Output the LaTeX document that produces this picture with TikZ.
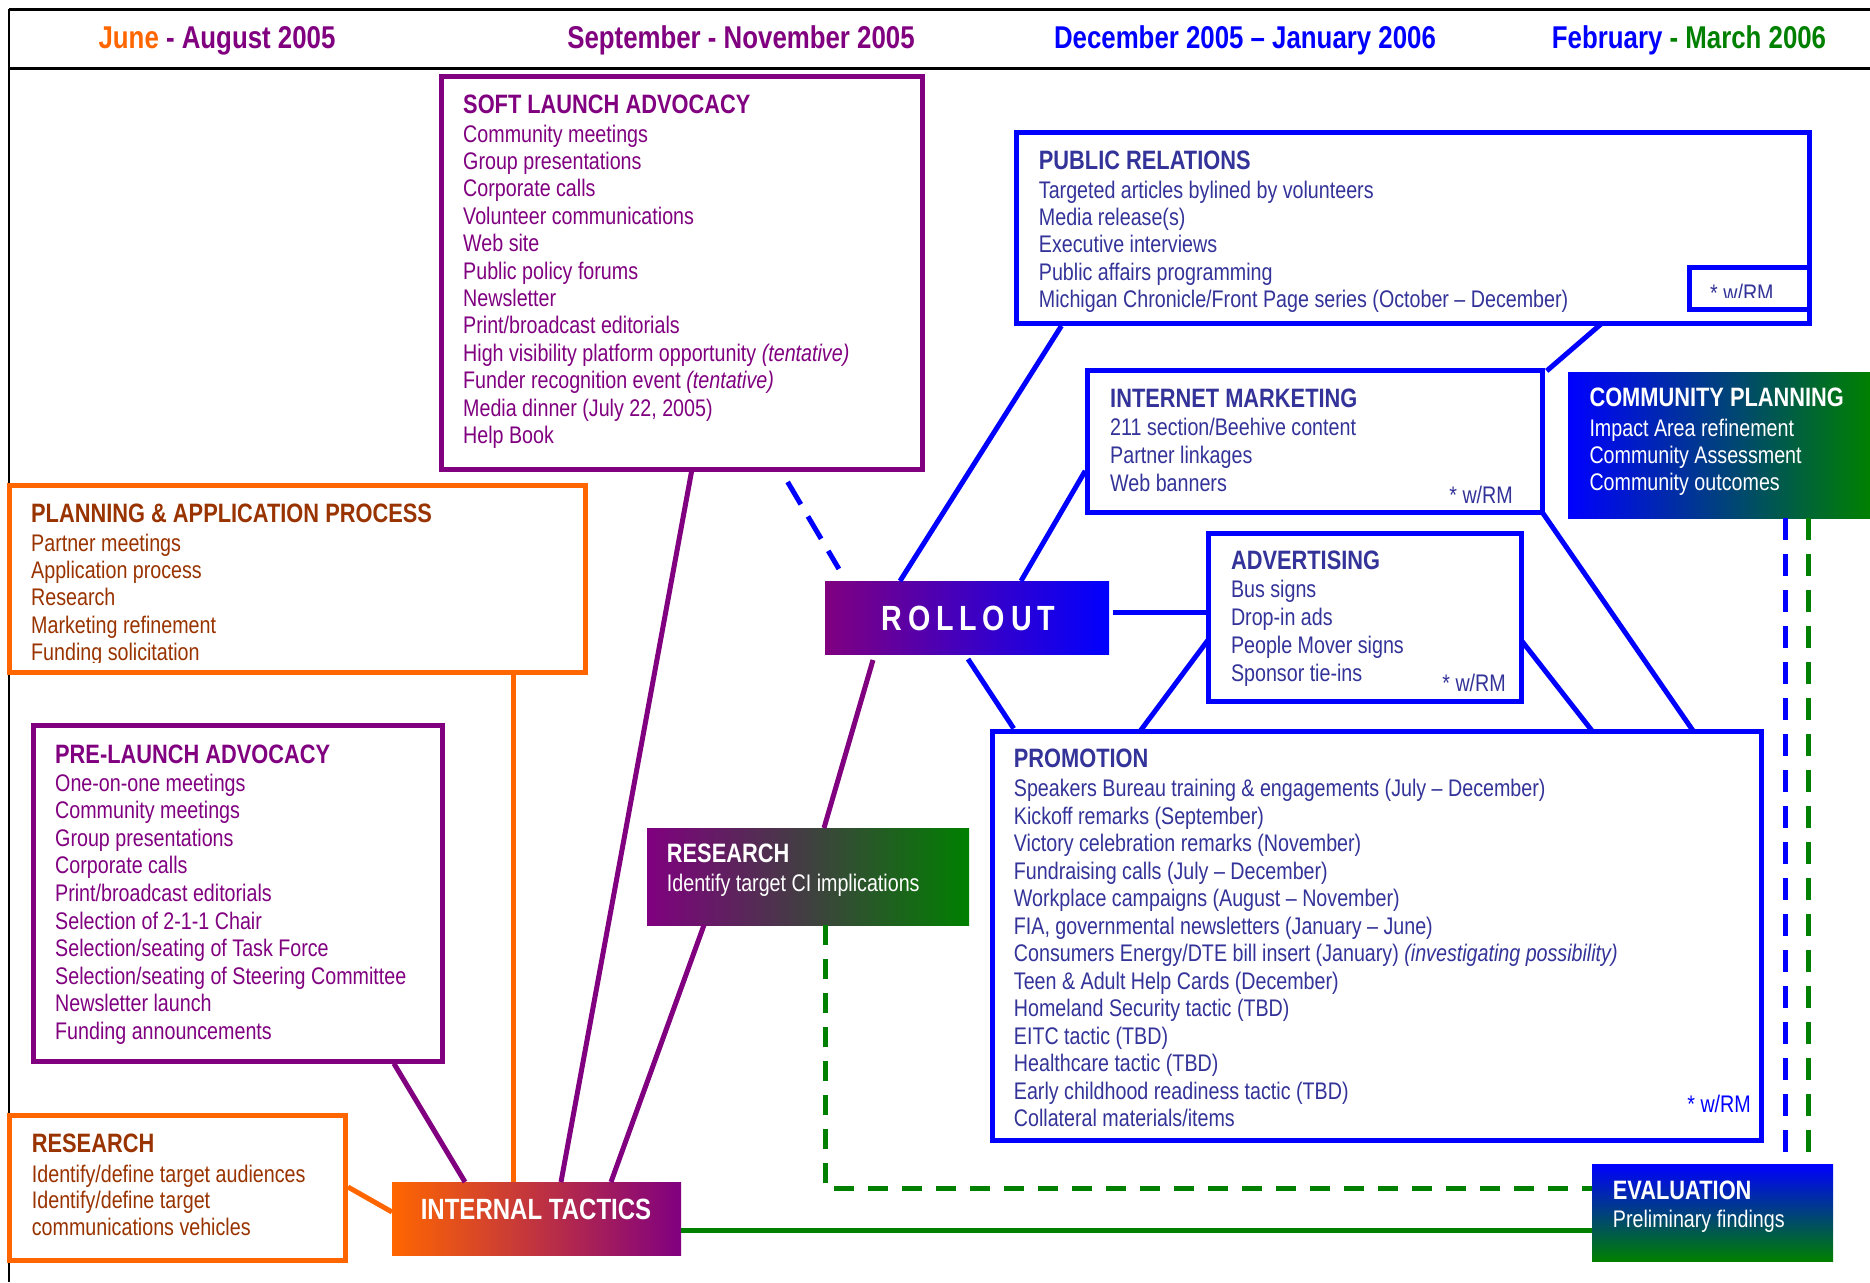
\documentclass[tikz,border=0pt]{standalone}
\usepackage{fontspec}
\setmainfont[FakeStretch=0.82]{Liberation Sans}
\usetikzlibrary{calc}
\definecolor{cpurple}{HTML}{800080}
\definecolor{corange}{HTML}{FF6600}
\definecolor{cbrown}{HTML}{993300}
\definecolor{cblue}{HTML}{0000FF}
\definecolor{cnavy}{HTML}{333399}
\definecolor{cgreen}{HTML}{008000}
\newcommand\ttl{\fontsize{26.6}{30}\selectfont\bfseries}
\newcommand\bodyf{\fontsize{24}{27.4}\selectfont}
\newcommand\fst{\rule{0pt}{20pt}}
\newcommand\rk{\kern5.8pt}
\begin{document}
\begin{tikzpicture}[x=1pt,y=-1pt,
  box/.style={draw, line width=5pt, fill=white, inner sep=0pt, outer sep=0pt, anchor=north west},
  shbox/.style={inner sep=0pt, outer sep=0pt, anchor=north west},
  txt/.style={anchor=north west, inner sep=0pt, align=left, font=\bodyf},
  conn/.style={line width=5pt},
  hdr/.style={anchor=base, inner sep=0pt, font=\fontsize{31.5}{36}\selectfont\bfseries},
  wrm/.style={anchor=base east, inner sep=0pt, font=\bodyf, text=cnavy}
]
\useasboundingbox (0,0) rectangle (1870,1282);
\fill[white] (0,0) rectangle (1870,1282);
% header frame
\draw[line width=3pt] (9,9) -- (1870,9);
\draw[line width=3pt] (9,68) -- (1870,68);
\draw[line width=1.5pt] (9,9) -- (9,1282);
\node[hdr] (h1) at (217,48.3) {\textcolor{corange}{June} \textcolor{cpurple}{- August 2005}};
\node[hdr, text=cpurple] (h2) at (741,48.3) {September - November 2005};
\node[hdr, text=cblue] (h3) at (1245,48.3) {December 2005 – January 2006};
\node[hdr] (h4) at (1689,48.3) {\textcolor{cblue}{February} \textcolor{cgreen}{- March 2006}};

% boxes (geometry)
\node[box, draw=cpurple, minimum width=481, minimum height=393] (soft) at (441,76) {};
\node[box, draw=corange, minimum width=576, minimum height=187] (plan) at (9.5,485.4) {};
\node[box, draw=cpurple, minimum width=409, minimum height=336] (pre) at (33.4,725) {};
\node[box, draw=corange, minimum width=336, minimum height=144.5] (resO) at (9.5,1115.5) {};
\node[shbox, left color=corange, right color=cpurple, minimum width=289, minimum height=73] (internal) at (392,1182) {};
\node[shbox, left color=cpurple, right color=cblue, minimum width=284, minimum height=73] (rollout) at (825,581) {};
\node[shbox, left color=cpurple, right color=cgreen, minimum width=322, minimum height=97] (resG) at (647,828) {};
\node[box, draw=cblue, minimum width=793, minimum height=191] (PR) at (1016,132.4) {};
\node[box, draw=cblue, minimum width=120, minimum height=42] (PRs) at (1689,267.5) {};
\node[box, draw=cblue, minimum width=455, minimum height=142] (IM) at (1087.7,370.9) {};
\node[shbox, left color=cblue, right color=cgreen, minimum width=302, minimum height=146] (CP) at (1568,372) {};
\node[box, draw=cblue, minimum width=313, minimum height=168] (ADV) at (1208,533) {};
\node[box, draw=cblue, minimum width=769, minimum height=409] (promo) at (992.2,731) {};
\node[shbox, top color=cblue, bottom color=cgreen, minimum width=241, minimum height=97] (eval) at (1592,1164) {};

% connectors
\draw[conn, cpurple] ($(soft.south west)+(251,0)$) -- ($(internal.north west)+(169,0)$);
\draw[conn, cblue, dash pattern=on 26pt off 14pt, shorten <=15pt, shorten >=14pt] ($(soft.south west)+(339,0)$) -- ($(rollout.north west)+(21,0)$);
\draw[conn, corange] ($(plan.south west)+(503.5,2.5)$) -- ($(internal.north west)+(121,0)$);
\draw[conn, cpurple] ($(pre.south west)+(360.5,2.5)$) -- ($(internal.north west)+(73,0)$);
\draw[conn, corange] ($(resO.north east)+(2.5,71.5)$) -- ($(internal.north west)+(0,30)$);
\draw[conn, cpurple] ($(internal.north west)+(219,0)$) -- ($(resG.south west)+(57,0)$);
\draw[conn, cpurple] ($(resG.north west)+(177,0)$) -- ($(rollout.south west)+(48,6)$);
\draw[conn, cgreen] ($(internal.north east)+(0,48)$) -- ($(eval.north west)+(0,66)$);
\draw[conn, cgreen, dash pattern=on 20pt off 14pt] ($(resG.south west)+(178,0)$) |- ($(eval.north west)+(0,24)$);
\draw[conn, cblue] ($(rollout.north west)+(75,0)$) -- ($(PR.south west)+(45.4,2.5)$);
\draw[conn, cblue] ($(rollout.north west)+(196,0)$) -- ($(IM.south west)+(-2.5,-42)$);
\draw[conn, cblue] ($(rollout.north east)+(4,31)$) -- ($(ADV.north west)+(-2.5,79)$);
\draw[conn, cblue] ($(rollout.south west)+(143,5)$) -- ($(promo.north west)+(21.5,-2.5)$);
\draw[conn, cblue] ($(ADV.north west)+(0,107)$) -- ($(promo.north west)+(148,0)$);
\draw[conn, cblue] ($(ADV.north east)+(0,107)$) -- ($(promo.north west)+(600,0)$);
\draw[conn, cblue] (IM.south east) -- ($(promo.north west)+(701,0)$);
\draw[conn, cblue] ($(PR.south west)+(585.7,0)$) -- ($(IM.north east)+(4,0)$);
\draw[conn, cblue, dash pattern=on 22pt off 14pt] ($(CP.south west)+(217,0)$) -- ($(eval.north west)+(193,0)$);
\draw[conn, cgreen, dash pattern=on 22pt off 14pt] ($(CP.south west)+(240.5,0)$) -- ($(eval.north west)+(216.5,0)$);

% redraw frames on top of connectors
\foreach \b/\c in {soft/cpurple, plan/corange, pre/cpurple, resO/corange, PR/cblue, IM/cblue, ADV/cblue, promo/cblue, PRs/cblue}
  \draw[line width=5pt, \c] (\b.north west) rectangle (\b.south east);

% texts
\node[txt, text=cpurple] (softT) at (463,93) {\fst{\ttl SOFT LAUNCH ADVOCACY}\\[1.5pt]
Community meetings\\ Group presentations\\ Corporate calls\\ Volunteer communications\\
Web site\\ Public policy forums\\ Newsletter\\ Print/broadcast editorials\\
High visibility platform opportunity \textit{(tentative)}\\ Funder recognition event \textit{(tentative)}\\
Media dinner (July 22, 2005)\\ Help Book};

\begin{scope}
\clip (12,488) rectangle (583,662);
\node[txt, text=cbrown] (planT) at (31,502) {\fst{\ttl PLANNING \& APPLICATION PROCESS}\\[1.5pt]
Partner meetings\\ Application process\\ Research\\ Marketing refinement\\ Funding solicitation};
\end{scope}

\node[txt, text=cpurple, font=\fontsize{24}{27.6}\selectfont] (preT) at (55,742.9) {\fst{\ttl PRE-LAUNCH ADVOCACY}\\[0.4pt]
One-on-one meetings\\ Community meetings\\ Group presentations\\ Corporate calls\\
Print/broadcast editorials\\ Selection of 2-1-1 Chair\\ Selection/seating of Task Force\\
Selection/seating of Steering Committee\\ Newsletter launch\\ Funding announcements};

\node[txt, text=cbrown, font=\fontsize{24}{26.5}\selectfont] (resOT) at (31.7,1132) {\fst{\ttl RESEARCH}\\[3.5pt]
Identify/define target audiences\\ Identify/define target\\ communications vehicles};

\node[inner sep=0pt, text=white, font=\fontsize{29.3}{34}\selectfont\bfseries] (intT) at (536,1209) {INTERNAL TACTICS};
\node[inner sep=0pt, text=white, font=\fontsize{35}{40}\selectfont\bfseries] (rollT) at (968.4,618.7) {R\rk O\rk L\rk L\rk O\rk U\rk T};

\node[txt, text=white] (resGT) at (666.7,842.3) {\fst{\ttl RESEARCH}\\[2pt] Identify target CI implications};

\node[txt, text=cnavy] (PRT) at (1038.7,149) {\fst{\ttl PUBLIC RELATIONS}\\[1.5pt]
Targeted articles bylined by volunteers\\ Media release(s)\\ Executive interviews\\
Public affairs programming\\ Michigan Chronicle/Front Page series (October – December)};
\begin{scope}
\clip (1692,270) rectangle (1806,297);
\node[anchor=base west, inner sep=0pt, font=\bodyf, text=cnavy] (PRw) at (1710,301.5) {* w/RM};
\end{scope}

\node[txt, text=cnavy, font=\fontsize{24}{28}\selectfont] (IMT) at (1110,387.5) {\fst{\ttl INTERNET MARKETING}\\
211 section/Beehive content\\ Partner linkages\\ Web banners};
\node[wrm] (IMw) at (1513,503.3) {* w/RM};

\node[txt, text=white, font=\fontsize{24}{27.3}\selectfont] (CPT) at (1589.3,386) {\fst{\ttl COMMUNITY PLANNING}\\[2.7pt]
Impact Area refinement\\ Community Assessment\\ Community outcomes};

\node[txt, text=cnavy, font=\fontsize{24}{27.9}\selectfont] (ADVT) at (1230.8,549.7) {\fst{\ttl ADVERTISING}\\
Bus signs\\ Drop-in ads\\ People Mover signs\\ Sponsor tie-ins};
\node[wrm] (ADVw) at (1506,691.7) {* w/RM};

\node[txt, text=cnavy, font=\fontsize{24}{27.5}\selectfont] (promoT) at (1013.7,747.7) {\fst{\ttl PROMOTION}\\[1.4pt]
Speakers Bureau training \& engagements (July – December)\\ Kickoff remarks (September)\\
Victory celebration remarks (November)\\ Fundraising calls (July – December)\\
Workplace campaigns (August – November)\\ FIA, governmental newsletters (January – June)\\
Consumers Energy/DTE bill insert (January) \textit{(investigating possibility)}\\
Teen \& Adult Help Cards (December)\\ Homeland Security tactic (TBD)\\ EITC tactic (TBD)\\
Healthcare tactic (TBD)\\ Early childhood readiness tactic (TBD)\\ Collateral materials/items};
\node[wrm, text=cblue] (promoW) at (1751,1112) {* w/RM};

\node[txt, text=white] (evalT) at (1612.7,1179) {\fst{\ttl EVALUATION}\\[0.6pt] Preliminary findings};
\end{tikzpicture}
\end{document}
